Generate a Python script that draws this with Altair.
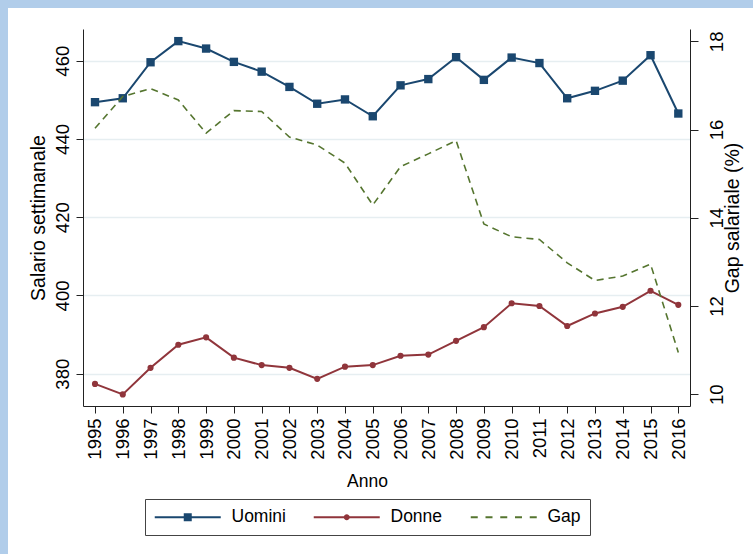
import altair as alt
import pandas as pd

# ---- data ----
years = list(range(1995, 2017))
uomini = [449.4, 450.4, 459.6, 465.0, 463.1, 459.7, 457.2, 453.3, 449.0, 450.1, 445.8,
          453.7, 455.3, 460.9, 455.1, 460.8, 459.4, 450.4, 452.3, 454.9, 461.4, 446.5]
donne = [377.4, 374.7, 381.5, 387.4, 389.3, 384.1, 382.2, 381.5, 378.7, 381.8, 382.2,
         384.6, 384.9, 388.4, 391.9, 398.0, 397.3, 392.2, 395.4, 397.1, 401.2, 397.6]
gap = [16.03, 16.75, 16.93, 16.67, 15.92, 16.43, 16.41, 15.83, 15.65, 15.24, 14.29,
       15.16, 15.45, 15.75, 13.86, 13.57, 13.51, 12.98, 12.58, 12.68, 12.95, 10.95]
series = ["Uomini", "Donne", "Gap"]
left_ticks = [380, 400, 420, 440, 460]
right_ticks = [10, 12, 14, 16, 18]

# ---- styling ----
NAVY, MAROON, GREEN = "#1a476f", "#90353b", "#55752f"
colors = [NAVY, MAROON, GREEN]
FONT = "Liberation Sans"

# legend key glyphs (unit = 8px, symbol centre sits 8px from the entry start)
LINE = "M-1,-0.125H7.25V0.125H-1Z"
sym_u = LINE + " M2.625,-0.5H3.625V0.5H2.625Z"
sym_d = LINE + " M2.75,0A0.375,0.375 0 1,1 3.5,0A0.375,0.375 0 1,1 2.75,0Z"
sym_g = ("M-1,-0.125H-0.125V0.125H-1Z M0.844,-0.125H1.719V0.125H0.844Z "
         "M2.6875,-0.125H3.5625V0.125H2.6875Z M4.531,-0.125H5.406V0.125H4.531Z "
         "M6.375,-0.125H7.25V0.125H6.375Z")
paths = [sym_u, sym_d, sym_g]

df = pd.DataFrame({"Anno": years, "Uomini": uomini, "Donne": donne, "Gap": gap})
leg_df = pd.DataFrame({"serie": series})

W, H = 607, 377

x = alt.X(
    "Anno:Q",
    scale=alt.Scale(domain=[1994.568, 2016.421], nice=False, zero=False),
    axis=alt.Axis(values=years, format="d", labelAngle=270, labelAlign="right",
                  labelBaseline="middle", labelPadding=5, tickSize=7, grid=False,
                  title="Anno", titleX=284, titleY=66, titleBaseline="top",
                  titleAlign="center", titleFontSize=17.5),
)

left_scale = alt.Scale(domain=[371.75, 468.1], nice=False, zero=False)
left_axis = alt.Axis(values=left_ticks, orient="left", title="Salario settimanale",
                     labelAngle=270, labelAlign="center", labelBaseline="bottom",
                     labelPadding=4, tickSize=7, grid=True, gridColor="#e6eef1",
                     gridWidth=1.5, titleAngle=270, titleX=-39, titleY=H / 2,
                     titleBaseline="alphabetic", titleAlign="center", titleFontSize=19.5)

right_scale = alt.Scale(domain=[9.735, 18.28], nice=False, zero=False)
right_axis = alt.Axis(values=right_ticks, orient="right", title="Gap salariale (%)",
                      labelAngle=270, labelAlign="center", labelBaseline="top",
                      labelPadding=9, tickSize=8, grid=False, titleAngle=270,
                      titleX=48, titleY=H / 2, titleBaseline="alphabetic",
                      titleAlign="center", titleFontSize=19.5)

base = alt.Chart(df)
yu = alt.Y("Uomini:Q", scale=left_scale, axis=left_axis)
yd = alt.Y("Donne:Q", scale=left_scale, axis=left_axis)

u_line = base.mark_line(color=NAVY, strokeWidth=2).encode(x=x, y=yu)
u_pts = base.mark_square(color=NAVY, size=70, opacity=1).encode(x=x, y=yu)
d_line = base.mark_line(color=MAROON, strokeWidth=2).encode(x=x, y=yd)
d_pts = base.mark_circle(color=MAROON, size=38, opacity=1).encode(x=x, y=yd)
wages = alt.layer(u_line, u_pts, d_line, d_pts)

g_line = base.mark_line(color=GREEN, strokeWidth=1.6, strokeDash=[7, 5]).encode(
    x=x, y=alt.Y("Gap:Q", scale=right_scale, axis=right_axis)
)

leg = alt.Legend(title=None, orient="none", legendX=62, legendY=470,
                 direction="horizontal", fillColor="white", strokeColor="#444444",
                 padding=9, symbolSize=256, symbolStrokeWidth=0, symbolOpacity=1,
                 labelFontSize=17.5, labelFont=FONT, labelOffset=60, columnPadding=27,
                 labelColor="black")
legend_layer = alt.Chart(leg_df).mark_point(filled=True, opacity=0).encode(
    color=alt.Color("serie:N", scale=alt.Scale(domain=series, range=colors), legend=leg),
    shape=alt.Shape("serie:N", scale=alt.Scale(domain=series, range=paths), legend=leg),
)

chart = (
    alt.layer(wages, g_line, legend_layer)
    .resolve_scale(y="independent")
    .properties(width=W, height=H, autosize=alt.AutoSizeParams(type="none"),
                padding={"left": 75, "top": 21, "right": 63, "bottom": 148},
                background="white")
    .configure_view(stroke=None)
    .configure_axis(labelFont=FONT, titleFont=FONT, labelFontSize=18.5,
                    labelColor="black", titleColor="black", domainColor="#222222",
                    tickColor="#222222", titleFontWeight="normal", domainWidth=1,
                    tickWidth=1)
)

css = ("html,body{background:#b1cdea;overflow:hidden;}"
       "body{margin:8px 0 0 8px;}")
chart.save("out.html", embed_options={"renderer": "svg", "actions": False,
                                      "defaultStyle": css})
